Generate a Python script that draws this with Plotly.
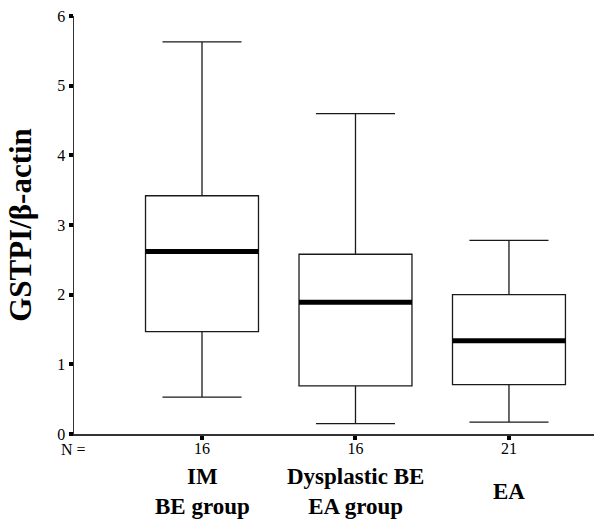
import plotly.graph_objects as go

groups = ["IM<br>BE group", "Dysplastic BE<br>EA group", "EA"]
n_values = ["16", "16", "21"]
positions = [0, 1, 2]
lower_whisker = [0.53, 0.15, 0.17]
q1 = [1.47, 0.69, 0.71]
median = [2.62, 1.89, 1.34]
q3 = [3.42, 2.58, 2.00]
upper_whisker = [5.63, 4.60, 2.78]

y_ticks = [0, 1, 2, 3, 4, 5, 6]
box_width = 0.736
serif = "Liberation Serif, Times New Roman, serif"

fig = go.Figure()
fig.add_trace(go.Box(
    x=positions, q1=q1, median=median, q3=q3,
    lowerfence=lower_whisker, upperfence=upper_whisker,
    width=box_width, whiskerwidth=0.70,
    fillcolor="white", line=dict(color="#1a1a1a", width=1.3),
    boxpoints=False, showlegend=False, hoverinfo="skip",
))
# thick median bars
for p, m in zip(positions, median):
    fig.add_trace(go.Scatter(
        x=[p - box_width / 2, p + box_width / 2], y=[m, m],
        mode="lines", line=dict(color="black", width=5),
        showlegend=False, hoverinfo="skip",
    ))

annotations = []
annotations.append(dict(x=0, y=0, xref="paper", yref="y", text="N =",
                        showarrow=False, xanchor="right", yanchor="middle",
                        yshift=-15, xshift=14,
                        font=dict(family=serif, size=16, color="black")))
for p, g in zip(positions, groups):
    annotations.append(dict(x=p, y=0, xref="x", yref="y", text="<b>" + g + "</b>",
                            showarrow=False, xanchor="center", yanchor="middle",
                            yshift=-57,
                            font=dict(family=serif, size=23, color="black")))

fig.update_layout(
    width=594, height=521,
    margin=dict(l=74, r=0, t=16, b=87, autoexpand=False),
    paper_bgcolor="white", plot_bgcolor="white",
    font=dict(family=serif, color="black"),
    hovermode=False,
    xaxis=dict(
        range=[-0.834, 2.554], tickmode="array", tickvals=positions, ticktext=n_values,
        showline=True, linecolor="#333", linewidth=1.5,
        ticks="outside", ticklen=4, tickwidth=4, tickcolor="black",
        showgrid=False, zeroline=False, ticklabelstandoff=-5,
        tickfont=dict(family=serif, size=16, color="black"),
    ),
    yaxis=dict(
        range=[0, 6], tickmode="array", tickvals=y_ticks,
        showline=True, linecolor="#333", linewidth=1.5,
        ticks="outside", ticklen=4, tickwidth=4, tickcolor="black",
        showgrid=False, zeroline=False,
        tickfont=dict(family=serif, size=16, color="black"),
        title=dict(text="<b>GSTPI/β-actin</b>", standoff=16,
                   font=dict(family=serif, size=31, color="black")),
    ),
    annotations=annotations,
)

fig.write_html("out.html", config={"displayModeBar": False, "staticPlot": True},
               post_script="document.body.style.margin='0';")
